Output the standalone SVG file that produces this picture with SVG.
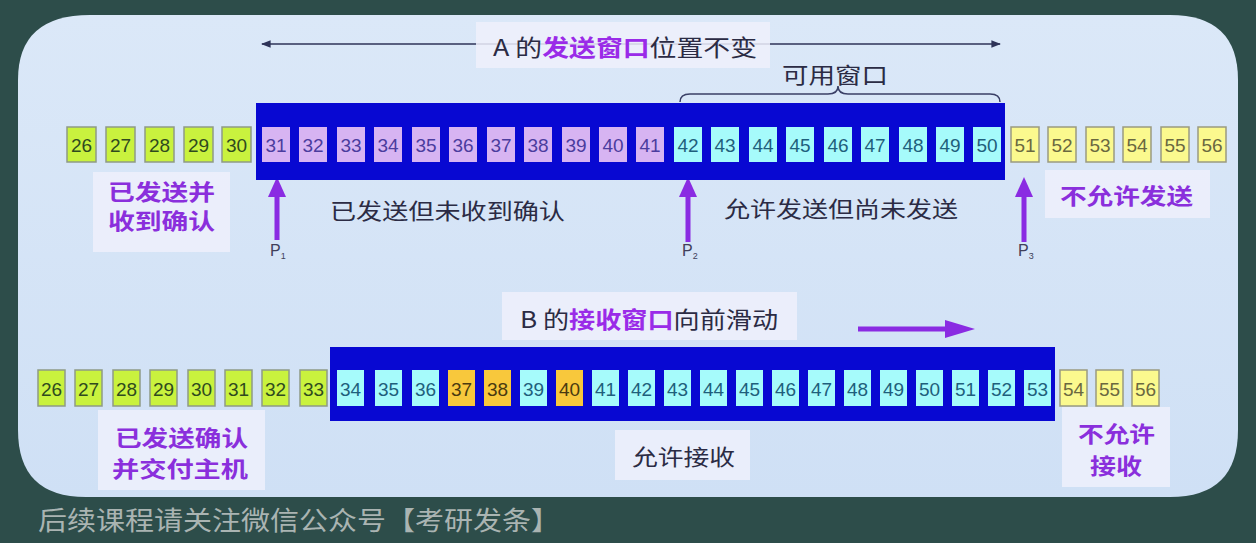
<svg xmlns="http://www.w3.org/2000/svg" width="1256" height="543" viewBox="0 0 1256 543">
<defs>
<style>
.num{font-family:"Liberation Sans",Arial,sans-serif;font-size:19px;text-anchor:middle}
.g rect{fill:#c9f23e;stroke:#8e9a86;stroke-width:1.5}
.g text{fill:#2f4a1e}
.p rect{fill:#d7b4f2}
.p text{fill:#4b3c9e}
.c rect{fill:#a6fbfb}
.c text{fill:#1f5f7c}
.o rect{fill:#f8c83c}
.o text{fill:#4a3a10}
.y rect{fill:#fbf98e;stroke:#9a9a80;stroke-width:1.5}
.y text{fill:#6a6840}
.zh{font-family:"Noto Sans CJK SC","Liberation Sans",sans-serif}
.lbl{font-size:22px;fill:#2b2b44}
.pur{font-size:22px;fill:#8a2fdc;font-weight:bold}
.hl{fill:#9a2be8;font-weight:bold}
.wbox{fill:#eef0fb;opacity:0.85}
.win{fill:#0808d2}
.plab{font-family:"Liberation Sans",Arial,sans-serif;font-size:16px;fill:#40405a}
</style>
<marker id="ah" viewBox="0 0 10 10" refX="9" refY="5" markerWidth="6" markerHeight="6" orient="auto-start-reverse">
<path d="M0,1 L10,5 L0,9 z" fill="#2e3358"/>
</marker>
<linearGradient id="pg" x1="0" y1="0" x2="0" y2="1">
<stop offset="0" stop-color="#dbe8f8"/>
<stop offset="1" stop-color="#cfe0f5"/>
</linearGradient>
</defs>
<rect x="0" y="0" width="1256" height="543" fill="#2d4d4a"/>
<path d="M90,15 H1170 Q1238,15 1238,80 V430 Q1238,497 1170,497 H86 Q18,497 18,430 V80 Q18,15 90,15 Z" fill="url(#pg)"/>

<g id="connectors">
<line x1="262" y1="44" x2="1000" y2="44" stroke="#2e3358" stroke-width="1.6" marker-start="url(#ah)" marker-end="url(#ah)"/>
<path d="M680,102 Q680,94 690,94 H828 Q838,94 838,86 Q838,94 848,94 H990 Q1000,94 1000,102" fill="none" stroke="#3a3f66" stroke-width="1.5"/>
<g fill="#8a2be2">
<rect x="274.5" y="194" width="5" height="46"/><path d="M268,197 L277,177 L286,197 Z"/>
<rect x="685.5" y="194" width="5" height="48"/><path d="M679,197 L688,177 L697,197 Z"/>
<rect x="1021.5" y="194" width="5" height="48"/><path d="M1015,197 L1024,177 L1033,197 Z"/>
<rect x="858" y="326.5" width="90" height="5"/><path d="M945,320 L975,329 L945,338 Z"/>
</g>
</g>

<g id="titleA">
<rect class="wbox" x="476" y="22" width="294" height="46"/>
<text class="zh" x="493" y="56" font-size="23" fill="#2b2b44" textLength="264" lengthAdjust="spacingAndGlyphs">A 的<tspan class="hl">发送窗口</tspan>位置不变</text>
</g>
<g id="usable">
<text class="zh" x="782" y="83" font-size="22" fill="#2b2b44" textLength="106" lengthAdjust="spacingAndGlyphs">可用窗口</text>
</g>

<g id="sendWindow"><rect class="win" x="256" y="103" width="749" height="77"/></g>
<g id="row1" class="num">
<g class="g"><rect x="67" y="127" width="29" height="35"/><text x="81.5" y="152">26</text></g>
<g class="g"><rect x="106" y="127" width="29" height="35"/><text x="120.5" y="152">27</text></g>
<g class="g"><rect x="145" y="127" width="29" height="35"/><text x="159.5" y="152">28</text></g>
<g class="g"><rect x="184" y="127" width="29" height="35"/><text x="198.5" y="152">29</text></g>
<g class="g"><rect x="222" y="127" width="29" height="35"/><text x="236.5" y="152">30</text></g>
<g class="p"><rect x="262" y="127" width="28" height="35"/><text x="276" y="152">31</text></g>
<g class="p"><rect x="299" y="127" width="28" height="35"/><text x="313" y="152">32</text></g>
<g class="p"><rect x="337" y="127" width="28" height="35"/><text x="351" y="152">33</text></g>
<g class="p"><rect x="374" y="127" width="28" height="35"/><text x="388" y="152">34</text></g>
<g class="p"><rect x="412" y="127" width="28" height="35"/><text x="426" y="152">35</text></g>
<g class="p"><rect x="449" y="127" width="28" height="35"/><text x="463" y="152">36</text></g>
<g class="p"><rect x="487" y="127" width="28" height="35"/><text x="501" y="152">37</text></g>
<g class="p"><rect x="524" y="127" width="28" height="35"/><text x="538" y="152">38</text></g>
<g class="p"><rect x="562" y="127" width="28" height="35"/><text x="576" y="152">39</text></g>
<g class="p"><rect x="599" y="127" width="28" height="35"/><text x="613" y="152">40</text></g>
<g class="p"><rect x="636" y="127" width="28" height="35"/><text x="650" y="152">41</text></g>
<g class="c"><rect x="674" y="127" width="28" height="35"/><text x="688" y="152">42</text></g>
<g class="c"><rect x="711" y="127" width="28" height="35"/><text x="725" y="152">43</text></g>
<g class="c"><rect x="749" y="127" width="28" height="35"/><text x="763" y="152">44</text></g>
<g class="c"><rect x="786" y="127" width="28" height="35"/><text x="800" y="152">45</text></g>
<g class="c"><rect x="824" y="127" width="28" height="35"/><text x="838" y="152">46</text></g>
<g class="c"><rect x="861" y="127" width="28" height="35"/><text x="875" y="152">47</text></g>
<g class="c"><rect x="899" y="127" width="28" height="35"/><text x="913" y="152">48</text></g>
<g class="c"><rect x="936" y="127" width="28" height="35"/><text x="950" y="152">49</text></g>
<g class="c"><rect x="973" y="127" width="28" height="35"/><text x="987" y="152">50</text></g>
<g class="y"><rect x="1011" y="127" width="28" height="35"/><text x="1025" y="152">51</text></g>
<g class="y"><rect x="1048" y="127" width="28" height="35"/><text x="1062" y="152">52</text></g>
<g class="y"><rect x="1086" y="127" width="28" height="35"/><text x="1100" y="152">53</text></g>
<g class="y"><rect x="1123" y="127" width="28" height="35"/><text x="1137" y="152">54</text></g>
<g class="y"><rect x="1161" y="127" width="28" height="35"/><text x="1175" y="152">55</text></g>
<g class="y"><rect x="1198" y="127" width="28" height="35"/><text x="1212" y="152">56</text></g>
</g>

<g id="labelAcked">
<rect class="wbox" x="93" y="172" width="137" height="80"/>
<text class="zh pur" x="108" y="200" font-size="20" textLength="107" lengthAdjust="spacingAndGlyphs">已发送并</text>
<text class="zh pur" x="108" y="229" font-size="20" textLength="107" lengthAdjust="spacingAndGlyphs">收到确认</text>
</g>
<g id="labelSentUnacked"><text class="zh lbl" x="330" y="219" textLength="235" lengthAdjust="spacingAndGlyphs">已发送但未收到确认</text></g>
<g id="labelAllowed"><text class="zh lbl" x="724" y="217" textLength="234" lengthAdjust="spacingAndGlyphs">允许发送但尚未发送</text></g>
<g id="labelNotAllowed">
<rect class="wbox" x="1045" y="170" width="165" height="48"/>
<text class="zh pur" x="1060" y="204" textLength="133" lengthAdjust="spacingAndGlyphs">不允许发送</text>
</g>
<g id="P1"><text class="plab" x="270" y="256">P<tspan font-size="9" dy="3">1</tspan></text></g>
<g id="P2"><text class="plab" x="682" y="256">P<tspan font-size="9" dy="3">2</tspan></text></g>
<g id="P3"><text class="plab" x="1018" y="256">P<tspan font-size="9" dy="3">3</tspan></text></g>

<g id="titleB">
<rect class="wbox" x="502" y="292" width="295" height="48"/>
<text class="zh" x="520" y="328" font-size="23" fill="#2b2b44" textLength="258" lengthAdjust="spacingAndGlyphs">B 的<tspan class="hl">接收窗口</tspan>向前滑动</text>
</g>

<g id="recvWindow"><rect class="win" x="330" y="347" width="725" height="74"/></g>
<g id="row2" class="num">
<g class="g"><rect x="38" y="370" width="27" height="36"/><text x="51.5" y="396">26</text></g>
<g class="g"><rect x="75" y="370" width="27" height="36"/><text x="88.5" y="396">27</text></g>
<g class="g"><rect x="113" y="370" width="27" height="36"/><text x="126.5" y="396">28</text></g>
<g class="g"><rect x="150" y="370" width="27" height="36"/><text x="163.5" y="396">29</text></g>
<g class="g"><rect x="188" y="370" width="27" height="36"/><text x="201.5" y="396">30</text></g>
<g class="g"><rect x="225" y="370" width="27" height="36"/><text x="238.5" y="396">31</text></g>
<g class="g"><rect x="262" y="370" width="27" height="36"/><text x="275.5" y="396">32</text></g>
<g class="g"><rect x="300" y="370" width="27" height="36"/><text x="313.5" y="396">33</text></g>
<g class="c"><rect x="337" y="370" width="27" height="36"/><text x="350.5" y="396">34</text></g>
<g class="c"><rect x="375" y="370" width="27" height="36"/><text x="388.5" y="396">35</text></g>
<g class="c"><rect x="412" y="370" width="27" height="36"/><text x="425.5" y="396">36</text></g>
<g class="o"><rect x="448" y="370" width="27" height="36"/><text x="461.5" y="396">37</text></g>
<g class="o"><rect x="484" y="370" width="27" height="36"/><text x="497.5" y="396">38</text></g>
<g class="c"><rect x="520" y="370" width="27" height="36"/><text x="533.5" y="396">39</text></g>
<g class="o"><rect x="556" y="370" width="27" height="36"/><text x="569.5" y="396">40</text></g>
<g class="c"><rect x="592" y="370" width="27" height="36"/><text x="605.5" y="396">41</text></g>
<g class="c"><rect x="628" y="370" width="27" height="36"/><text x="641.5" y="396">42</text></g>
<g class="c"><rect x="664" y="370" width="27" height="36"/><text x="677.5" y="396">43</text></g>
<g class="c"><rect x="700" y="370" width="27" height="36"/><text x="713.5" y="396">44</text></g>
<g class="c"><rect x="736" y="370" width="27" height="36"/><text x="749.5" y="396">45</text></g>
<g class="c"><rect x="772" y="370" width="27" height="36"/><text x="785.5" y="396">46</text></g>
<g class="c"><rect x="808" y="370" width="27" height="36"/><text x="821.5" y="396">47</text></g>
<g class="c"><rect x="844" y="370" width="27" height="36"/><text x="857.5" y="396">48</text></g>
<g class="c"><rect x="880" y="370" width="27" height="36"/><text x="893.5" y="396">49</text></g>
<g class="c"><rect x="916" y="370" width="27" height="36"/><text x="929.5" y="396">50</text></g>
<g class="c"><rect x="952" y="370" width="27" height="36"/><text x="965.5" y="396">51</text></g>
<g class="c"><rect x="988" y="370" width="27" height="36"/><text x="1001.5" y="396">52</text></g>
<g class="c"><rect x="1024" y="370" width="27" height="36"/><text x="1037.5" y="396">53</text></g>
<g class="y"><rect x="1060" y="370" width="27" height="36"/><text x="1073.5" y="396">54</text></g>
<g class="y"><rect x="1096" y="370" width="27" height="36"/><text x="1109.5" y="396">55</text></g>
<g class="y"><rect x="1132" y="370" width="27" height="36"/><text x="1145.5" y="396">56</text></g>
</g>

<g id="labelDelivered">
<rect class="wbox" x="98" y="410" width="167" height="80"/>
<text class="zh pur" x="115" y="446" textLength="133" lengthAdjust="spacingAndGlyphs">已发送确认</text>
<text class="zh pur" x="112" y="477" textLength="136" lengthAdjust="spacingAndGlyphs">并交付主机</text>
</g>
<g id="labelRecvAllowed">
<rect class="wbox" x="615" y="430" width="135" height="50"/>
<text class="zh lbl" x="632" y="465" textLength="103" lengthAdjust="spacingAndGlyphs">允许接收</text>
</g>
<g id="labelRecvNotAllowed">
<rect class="wbox" x="1062" y="407" width="108" height="80"/>
<text class="zh pur" x="1078" y="442" textLength="77" lengthAdjust="spacingAndGlyphs">不允许</text>
<text class="zh pur" x="1090" y="474" textLength="52" lengthAdjust="spacingAndGlyphs">接收</text>
</g>

<text x="38" y="530" font-family="'Liberation Serif','Noto Sans CJK SC',serif" font-size="26" fill="#aab4b2" textLength="522" lengthAdjust="spacingAndGlyphs">后续课程请关注微信公众号【考研发条】</text>
</svg>
